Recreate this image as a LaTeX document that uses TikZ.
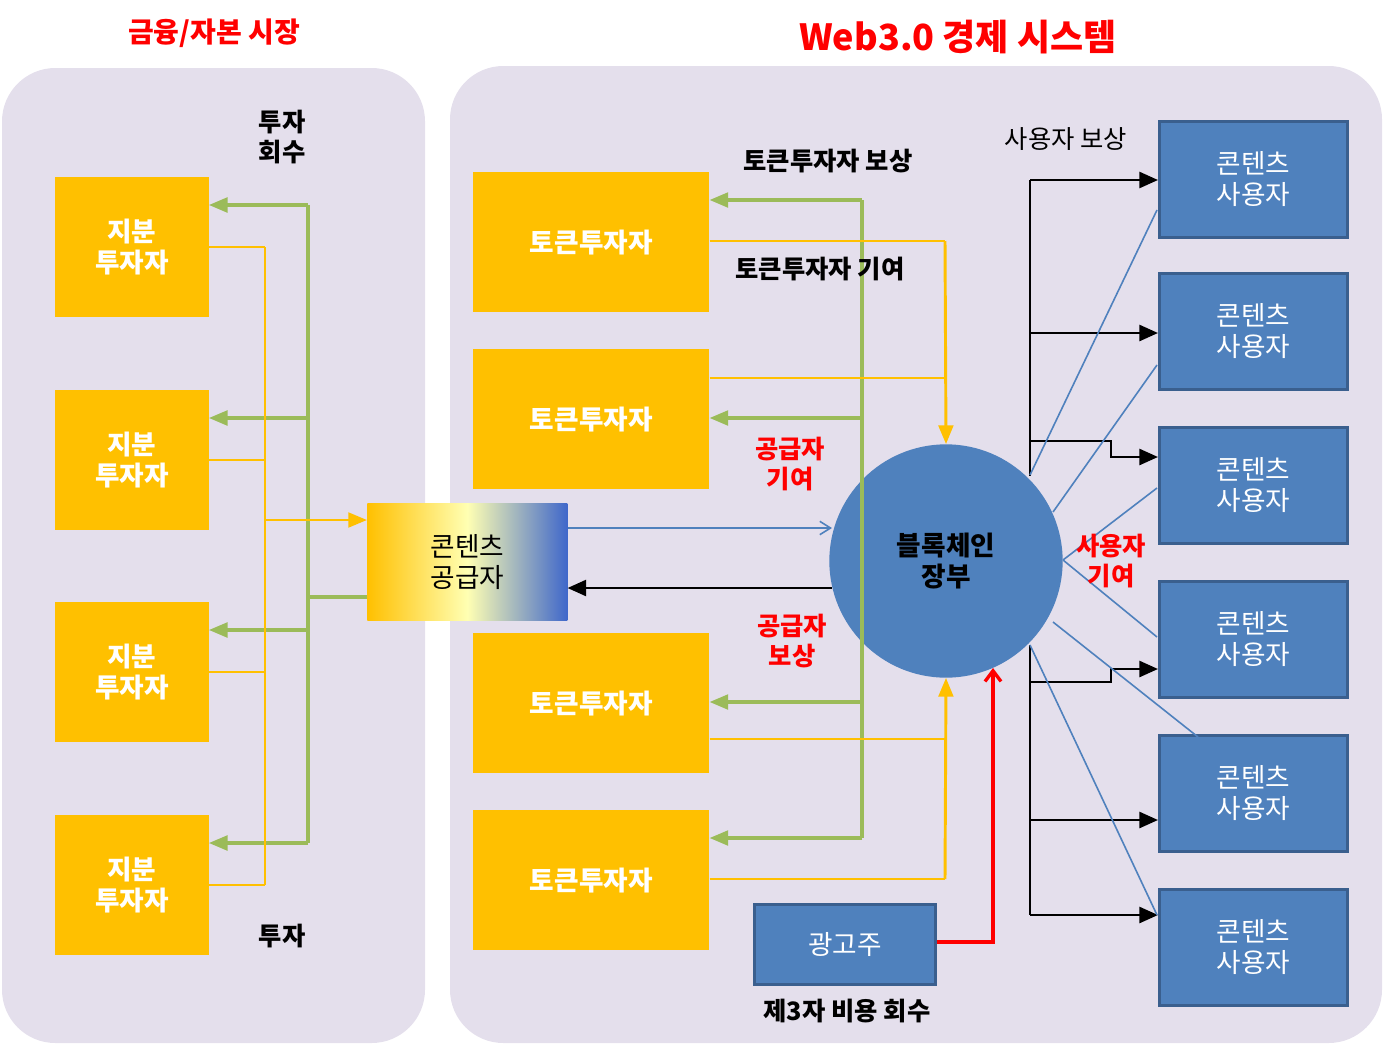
\documentclass[tikz,border=0pt]{standalone}
\usepackage{fontspec}
\setmainfont{Noto Sans CJK KR}
\usetikzlibrary{arrows.meta}
\definecolor{panel}{HTML}{E4DFEC}
\definecolor{gold}{HTML}{FFC000}
\definecolor{ublue}{HTML}{4F81BD}
\definecolor{ubord}{HTML}{3A5F8E}
\definecolor{grn}{HTML}{9BBB59}
\tikzset{
 panelbox/.style={fill=panel,rounded corners=40pt},
 eqbox/.style={fill=gold,text=white,font=\fontsize{20}{23}\selectfont\bfseries,align=center},
 userbox/.style={fill=ublue,draw=ubord,line width=2pt,text=white,font=\fontsize{20}{23}\selectfont,align=center},
 lbl/.style={font=\fontsize{19}{22}\selectfont\bfseries,align=center},
 rlbl/.style={lbl,text=red},
 garr/.style={grn,line width=2.5pt,-{Triangle[length=14pt,width=11pt]}},
 gline/.style={grn,line width=2.5pt},
 yarr/.style={gold,line width=2.2pt,-{Triangle[length=14pt,width=11pt]}},
 yline/.style={gold,line width=2.2pt},
 karr/.style={black,line width=2pt,-{Triangle[length=14pt,width=12pt]}},
 bline/.style={ublue,line width=1.2pt},
}
\begin{document}
\begin{tikzpicture}[x=0.75pt,y=-0.75pt]
\useasboundingbox (0,0) rectangle (1384,1046);
\fill[panelbox] (2,68) rectangle (425,1043);
\fill[panelbox] (450,66) rectangle (1382,1043);
\node[text=red,font=\fontsize{21}{24}\selectfont\bfseries] (t1) at (214,33) {금융/자본 시장};
\node[text=red,font=\fontsize{27}{30}\selectfont\bfseries] (t2) at (958,37) {Web3.0 경제 시스템};
% equity boxes
\foreach \i/\y in {1/177,2/390,3/602,4/815}{
 \node[eqbox,minimum width=115pt,minimum height=105pt,anchor=north west,inner sep=0] (e\i) at (55,\y) {지분\\투자자};
}
\foreach \i/\y in {1/172,2/349,3/633,4/810}{
 \node[eqbox,minimum width=177pt,minimum height=105pt,anchor=north west,inner sep=0] (k\i) at (473,\y) {토큰투자자};
}
\node[left color=gold,right color=ublue!80!blue,middle color=yellow!30,minimum width=150pt,minimum height=88pt,anchor=north west,inner sep=0,font=\fontsize{20}{23}\selectfont,align=center] (cp) at (367,503) {콘텐츠\\공급자};
\node[circle,fill=ublue,minimum size=175pt,inner sep=0,font=\fontsize{20}{23}\selectfont\bfseries,align=center] (bc) at (946,561) {블록체인\\장부};
\foreach \i/\y in {1/120,2/272,3/426,4/580,5/734,6/888}{
 \node[userbox,minimum width=141pt,minimum height=87pt,anchor=north west,inner sep=0] (u\i) at (1158,\y) {콘텐츠\\사용자};
}
\node[userbox,minimum width=136pt,minimum height=60pt,anchor=north west,inner sep=0] (ad) at (753,903) {광고주};
% left connectors
\draw[gline] (308,205) -- (308,843);
\draw[gline] (cp.west|-0,597) -- (308,597);
\foreach \i/\y in {1/205,2/418,3/630,4/843} \draw[garr] (308,\y) -- (e\i.east|-0,\y);
\draw[yline] (265,247) -- (265,885);
\foreach \i/\y in {1/247,2/460,3/672,4/885} \draw[yline] (e\i.east|-0,\y) -- (265,\y);
\draw[yarr] (265,520) -- (cp.west|-0,520);
% right green
\draw[gline] (862,200) -- (862,838);
\foreach \i/\y in {1/200,2/418,3/702,4/838} \draw[garr] (862,\y) -- (k\i.east|-0,\y);
% yellow
\draw[yline] (k1.east|-0,241) -- (945,241);
\draw[yline] (k2.east|-0,378) -- (945,378);
\draw[yarr] (945,241) -- (bc.north);
\draw[yline] (k3.east|-0,739) -- (945,739);
\draw[yline] (k4.east|-0,879) -- (945,879);
\draw[yarr] (945,879) -- (bc.south);
% provider arrows
\draw[ublue,line width=1.2pt,-{Straight Barb[length=8pt,width=10pt]}] (cp.east|-0,528) -- (832,528);
\draw[karr] (832,588) -- (cp.east|-0,588);
% advertiser
\draw[red,line width=2.5pt,-{Straight Barb[length=8pt,width=12pt]}] (ad.east|-0,942) -- (993,942) -- (993,668);
% black user arrows
\draw[black,line width=2pt] (1030,180) -- (1030,476);
\draw[black,line width=2pt] (1030,645) -- (1030,915);
\draw[karr] (1030,180) -- (u1.west|-0,180);
\draw[karr] (1030,333) -- (u2.west|-0,333);
\draw[karr] (1030,441) -- (1111,441) -- (1111,457) -- (u3.west|-0,457);
\draw[karr] (1030,682) -- (1111,682) -- (1111,669) -- (u4.west|-0,669);
\draw[karr] (1030,820) -- (u5.west|-0,820);
\draw[karr] (1030,915) -- (u6.west|-0,915);
% blue thin lines
\draw[bline] (1030,475) -- (1157,210);
\draw[bline] (1053,512) -- (1157,365);
\draw[bline] (1063,560) -- (1157,488);
\draw[bline] (1063,560) -- (1157,637);
\draw[bline] (1053,622) -- (1198,737);
\draw[bline] (1030,645) -- (1157,915);
% labels
\node[lbl] (l1) at (282,137) {투자\\회수};
\node[lbl] (l2) at (282,936) {투자};
\node[lbl] (l3) at (828,161) {토큰투자자 보상};
\node[lbl] (l4) at (820,269) {토큰투자자 기여};
\node[rlbl] (l5) at (790,464) {공급자\\기여};
\node[rlbl] (l6) at (792,641) {공급자\\보상};
\node[rlbl] (l7) at (1111,561) {사용자\\기여};
\node[font=\fontsize{19}{22}\selectfont] (l8) at (1066,139) {사용자 보상};
\node[lbl] (l9) at (847,1011) {제3자 비용 회수};
\end{tikzpicture}
\end{document}
